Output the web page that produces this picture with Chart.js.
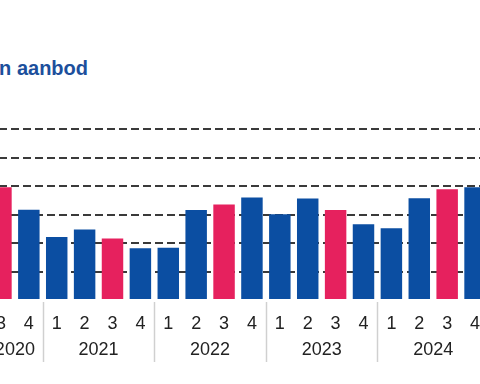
<!DOCTYPE html>
<html>
<head>
<meta charset="utf-8">
<script src="https://cdn.jsdelivr.net/npm/chart.js@4/dist/chart.umd.min.js"></script>
<style>
  html, body { margin: 0; padding: 0; background: #ffffff; overflow: hidden; }
  body { width: 480px; height: 384px; position: relative; }
  #title {
    position: absolute; left: -312px; width: 400px; top: 58px;
    text-align: right; font: bold 20px "Liberation Sans", Arial, sans-serif;
    line-height: 20px; color: #1C4F9C; white-space: nowrap;
  }
  #wrap { position: absolute; left: -40px; top: 0; width: 560px; height: 384px; }
</style>
</head>
<body>
<div id="title">Ontwikkeling van aanbod</div>
<div id="wrap"><canvas id="c"></canvas></div>
<script>
// Categories: quarters from 2020 Q3 to 2024 Q4
const quarterLabels = ['3','4','1','2','3','4','1','2','3','4','1','2','3','4','1','2','3','4'];
const quarterYears  = ['2020','2020','2021','2021','2021','2021','2022','2022','2022','2022',
                       '2023','2023','2023','2023','2024','2024','2024','2024'];
const years = ['2020','2021','2022','2023','2024'];
const values = [3.96, 3.17, 2.21, 2.47, 2.16, 1.82, 1.83, 3.16, 3.35, 3.60,
                3.01, 3.56, 3.16, 2.66, 2.52, 3.57, 3.89, 3.96];
const yTicks = [0, 1, 2, 3, 4, 5, 6];

const BLUE = '#0B4EA2';
const PINK = '#E6215E';
const FONT = '"Liberation Sans", Arial, sans-serif';

const yearPlugin = {
  id: 'yearPlugin',
  afterDraw(chart) {
    const ctx = chart.ctx;
    const xs = chart.scales.x;
    const step = xs.getPixelForValue(1) - xs.getPixelForValue(0);
    ctx.save();
    ctx.font = '18px ' + FONT;
    ctx.fillStyle = '#222222';
    ctx.textAlign = 'center';
    ctx.textBaseline = 'middle';
    years.forEach((y, gi) => {
      const idx = quarterYears.map((q, i) => q === y ? i : -1).filter(i => i >= 0);
      const first = idx[0], last = idx[idx.length - 1];
      const cx = (xs.getPixelForValue(first) + xs.getPixelForValue(last)) / 2;
      ctx.fillText(y, cx, 350);
      if (gi < years.length - 1) {
        const sx = Math.round(xs.getPixelForValue(last) + step / 2) + 0.5;
        ctx.strokeStyle = '#D0D0D0';
        ctx.lineWidth = 1.5;
        ctx.beginPath();
        ctx.moveTo(sx, 302);
        ctx.lineTo(sx, 362);
        ctx.stroke();
      }
    });
    ctx.restore();
  }
};

new Chart(document.getElementById('c'), {
  type: 'bar',
  data: {
    labels: quarterLabels,
    datasets: [{
      data: values,
      backgroundColor: quarterLabels.map(q => q === '3' ? PINK : BLUE),
      borderWidth: 0,
      barPercentage: 0.77,
      categoryPercentage: 1.0
    }]
  },
  options: {
    responsive: true,
    maintainAspectRatio: false,
    animation: false,
    layout: { padding: { left: 27, right: 31, top: 129, bottom: 0 } },
    plugins: { legend: { display: false }, tooltip: { enabled: false }, title: { display: false } },
    scales: {
      x: {
        offset: true,
        grid: { display: false },
        border: { display: false },
        ticks: { color: '#222222', font: { family: FONT, size: 18 }, padding: 5, maxRotation: 0, autoSkip: false },
        afterFit(scale) { scale.height = 84; }
      },
      y: {
        display: true,
        min: yTicks[0],
        max: yTicks[yTicks.length - 1],
        afterBuildTicks(scale) { scale.ticks = yTicks.map(v => ({ value: v })); },
        ticks: { display: false },
        border: { display: false, dash: [8, 4] },
        grid: {
          drawTicks: false,
          lineWidth: 2,
          color: (c) => c.tick && c.tick.value === 0 ? 'rgba(0,0,0,0)' : '#3A3A3A'
        },
        afterFit(scale) { scale.width = 0; }
      }
    }
  },
  plugins: [yearPlugin]
});
</script>
</body>
</html>
